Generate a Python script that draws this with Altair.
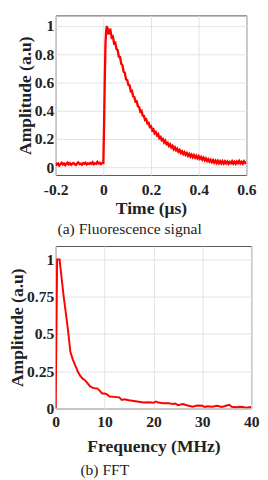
import altair as alt
import pandas as pd

FONT = "Liberation Serif"

time_base = [-0.200, -0.195, -0.190, -0.185, -0.180, -0.175, -0.170, -0.165, -0.160, -0.155,
             -0.150, -0.145, -0.140, -0.135, -0.130, -0.125, -0.120, -0.115, -0.110, -0.105,
             -0.100, -0.095, -0.090, -0.085, -0.080, -0.075, -0.070, -0.065, -0.060, -0.055,
             -0.050, -0.045, -0.040, -0.035, -0.030, -0.025, -0.020, -0.015, -0.010, -0.005]
amp_base = [0.030, 0.018, 0.026, 0.012, 0.022, 0.031, 0.019, 0.027, 0.015, 0.024,
            0.033, 0.020, 0.028, 0.017, 0.025, 0.030, 0.021, 0.016, 0.027, 0.034,
            0.022, 0.026, 0.018, 0.029, 0.024, 0.032, 0.019, 0.027, 0.023, 0.030,
            0.025, 0.035, 0.021, 0.028, 0.024, 0.038, 0.026, 0.031, 0.022, 0.029]
time_rise = [0.000, 0.003, 0.006, 0.009, 0.012, 0.015, 0.0175]
amp_rise = [0.030, 0.300, 0.620, 0.880, 0.970, 1.000, 0.940]
time_decay = [0.020, 0.025, 0.030, 0.035, 0.040, 0.045, 0.050, 0.055, 0.060, 0.065,
              0.070, 0.075, 0.080, 0.085, 0.090, 0.095, 0.100, 0.105, 0.110, 0.115,
              0.120, 0.125, 0.130, 0.135, 0.140, 0.145, 0.150, 0.155, 0.160, 0.165,
              0.170, 0.175, 0.180, 0.185, 0.190, 0.195, 0.200, 0.205, 0.210, 0.215,
              0.220, 0.225, 0.230, 0.235, 0.240, 0.245, 0.250, 0.255, 0.260, 0.265,
              0.270, 0.275, 0.280, 0.285, 0.290, 0.295, 0.300, 0.305, 0.310, 0.315,
              0.320, 0.325, 0.330, 0.335, 0.340, 0.345, 0.350, 0.355, 0.360, 0.365,
              0.370, 0.375, 0.380, 0.385, 0.390, 0.395, 0.400, 0.405, 0.410, 0.415,
              0.420, 0.425, 0.430, 0.435, 0.440, 0.445, 0.450, 0.455, 0.460, 0.465,
              0.470, 0.475, 0.480, 0.485, 0.490, 0.495, 0.500, 0.505, 0.510, 0.515,
              0.520, 0.525, 0.530, 0.535, 0.540, 0.545, 0.550, 0.555, 0.560, 0.565,
              0.570, 0.575, 0.580, 0.585, 0.590, 0.595, 0.600]
amp_decay = [0.985, 0.955, 0.968, 0.918, 0.925, 0.878, 0.882, 0.838, 0.829, 0.782,
             0.781, 0.733, 0.722, 0.676, 0.668, 0.622, 0.619, 0.583, 0.580, 0.538,
             0.541, 0.503, 0.498, 0.463, 0.466, 0.431, 0.428, 0.394, 0.399, 0.366,
             0.364, 0.334, 0.339, 0.309, 0.314, 0.285, 0.290, 0.262, 0.269, 0.240,
             0.249, 0.226, 0.234, 0.206, 0.214, 0.191, 0.199, 0.175, 0.187, 0.164,
             0.173, 0.151, 0.162, 0.140, 0.151, 0.128, 0.141, 0.120, 0.131, 0.110,
             0.121, 0.101, 0.113, 0.094, 0.107, 0.088, 0.100, 0.081, 0.094, 0.076,
             0.089, 0.071, 0.085, 0.068, 0.081, 0.063, 0.077, 0.059, 0.072, 0.054,
             0.067, 0.049, 0.062, 0.045, 0.057, 0.040, 0.053, 0.036, 0.050, 0.033,
             0.047, 0.030, 0.045, 0.028, 0.043, 0.027, 0.042, 0.026, 0.041, 0.027,
             0.040, 0.025, 0.038, 0.028, 0.043, 0.026, 0.039, 0.024, 0.041, 0.029,
             0.044, 0.027, 0.038, 0.025, 0.042, 0.030, 0.036]

freq_mhz = [0, 0.3, 0.8, 1.2, 1.6, 2.0, 2.5, 3.0, 3.5, 4.0, 4.5, 5.0, 5.5, 6.0, 6.5, 7.0,
            7.5, 8.0, 8.5, 9.0, 9.5, 10.0, 10.5, 11.0, 12.0, 13.0, 13.5, 14.0, 15.0, 16.0,
            17.0, 18.0, 19.0, 20.0, 20.5, 21.0, 22.0, 23.0, 24.0, 24.5, 25.0, 26.0, 27.0,
            28.0, 29.0, 30.0, 30.5, 31.0, 32.0, 33.0, 34.0, 35.0, 35.5, 36.0, 37.0, 38.0,
            39.0, 40.0]
amp_fft = [0, 1.0, 1.0, 0.88, 0.76, 0.66, 0.53, 0.38, 0.33, 0.29, 0.25, 0.22, 0.20, 0.19,
           0.17, 0.15, 0.14, 0.135, 0.135, 0.12, 0.10, 0.10, 0.095, 0.08, 0.078, 0.075,
           0.058, 0.062, 0.055, 0.05, 0.045, 0.04, 0.042, 0.038, 0.047, 0.04, 0.035, 0.036,
           0.03, 0.034, 0.022, 0.03, 0.02, 0.012, 0.02, 0.018, 0.01, 0.015, 0.012, 0.018,
           0.01, 0.02, 0.025, 0.012, 0.008, 0.012, 0.006, 0.01]

x1_ticks = [-0.2, 0, 0.2, 0.4, 0.6]
x1_labels = ["-0.2", "0", "0.2", "0.4", "0.6"]
y1_ticks = [0, 0.2, 0.4, 0.6, 0.8, 1]
y1_labels = ["0", "0.2", "0.4", "0.6", "0.8", "1"]
x2_ticks = [0, 10, 20, 30, 40]
x2_labels = ["0", "10", "20", "30", "40"]
y2_ticks = [0, 0.25, 0.5, 0.75, 1]
y2_labels = ["0", "0.25", "0.5", "0.75", "1"]


def label_expr(ticks, labels):
    expr = "''"
    for v, lab in reversed(list(zip(ticks, labels))):
        expr = f"abs(datum.value - ({v})) < 1e-6 ? '{lab}' : ({expr})"
    return expr


def axis(ticks, labels, title, **kw):
    return alt.Axis(values=ticks, labelExpr=label_expr(ticks, labels), title=title,
                    grid=True, gridColor="#e2e2e2", domain=False, tickSize=0,
                    labelFlush=False, labelOverlap=False,
                    labelFont=FONT, labelFontWeight="bold", labelFontSize=16,
                    labelColor="#222222", titleFont=FONT, titleFontWeight="bold",
                    titleFontSize=18, titleColor="#222222", **kw)


df1 = pd.DataFrame({"t": time_base + time_rise + time_decay,
                    "a": amp_base + amp_rise + amp_decay})
df2 = pd.DataFrame({"f": freq_mhz, "a": amp_fft})

top = alt.Chart(df1).mark_line(color="#ff0000", strokeWidth=2.4, clip=True).encode(
    x=alt.X("t:Q", scale=alt.Scale(domain=[-0.2, 0.6], nice=False, zero=False),
            axis=axis(x1_ticks, x1_labels, "Time (μs)", labelPadding=7, titlePadding=3)),
    y=alt.Y("a:Q", scale=alt.Scale(domain=[-0.055, 1.075], nice=False, zero=False),
            axis=axis(y1_ticks, y1_labels, "Amplitude (a.u)", labelPadding=2, titlePadding=0)),
    order="t:Q",
).properties(width=196, height=164,
             title=alt.TitleParams("(a) Fluorescence signal", orient="bottom", font=FONT,
                                   fontSize=16, fontWeight="normal", color="#222222",
                                   offset=4, dx=-22))

bottom = alt.Chart(df2).mark_line(color="#ff0000", strokeWidth=2, clip=True).encode(
    x=alt.X("f:Q", scale=alt.Scale(domain=[0, 40], nice=False),
            axis=axis(x2_ticks, x2_labels, "Frequency (MHz)", labelPadding=5, titlePadding=9)),
    y=alt.Y("a:Q", scale=alt.Scale(domain=[0, 1.09], nice=False),
            axis=axis(y2_ticks, y2_labels, "Amplitude (a.u)", labelPadding=2, titlePadding=0)),
    order="f:Q",
).properties(width=201, height=167,
             title=alt.TitleParams("(b) FFT", orient="bottom", font=FONT,
                                   fontSize=16, fontWeight="normal", color="#222222",
                                   offset=7, dx=-50))

chart = alt.vconcat(top, bottom, spacing=7).properties(padding=0).configure_view(
    stroke="#555555", strokeWidth=1)

chart.save("out.html", embed_options={"renderer": "svg", "actions": False})
